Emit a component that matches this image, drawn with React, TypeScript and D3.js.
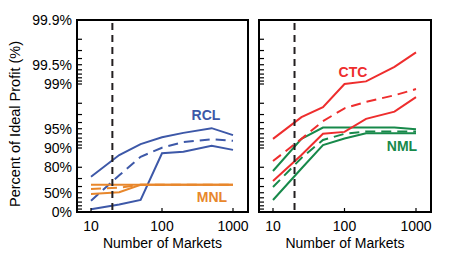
import React from 'react';
import * as d3 from 'd3';

// number of markets (x) and percent of ideal profit (y)
const markets = [10, 25, 50, 100, 200, 500, 1000];

const rclHigh = [71.9, 87.1, 91.3, 93.2, 94.2, 95.1, 93.7];
const rclMid = [33.5, 73.3, 86.3, 90.1, 91.9, 92.7, 92.3];
const rclLow = [9.2, 23.6, 35.1, 87.9, 88.6, 90.8, 89.3];

const mnlHigh = [62.5, 62.5, 62.5, 62.5, 62.5, 62.5, 62.5];
const mnlMid = [56.3, 58.3, 62.5, 62.5, 62.5, 62.5, 62.5];
const mnlLow = [47.7, 50.8, 62.5, 62.5, 62.5, 62.5, 62.5];

const ctcHigh = [92.8, 96.7, 97.7, 99.0, 99.09, 99.46, 99.68];
const ctcMid = [84.0, 92.8, 96.2, 97.6, 98.1, 98.5, 98.8];
const ctcLow = [67.2, 87.1, 94.0, 94.4, 96.5, 97.3, 98.4];

const nmlHigh = [77.1, 92.8, 95.2, 95.2, 95.2, 95.2, 94.9];
const nmlMid = [59.3, 85.7, 92.5, 94.0, 94.5, 94.5, 94.5];
const nmlLow = [35.1, 79.1, 91.0, 92.9, 94.1, 94.1, 94.1];

const yTickValues = [0, 50, 80, 90, 95, 99, 99.5, 99.9];
const yTickLabels = ['0%', '50%', '80%', '90%', '95%', '99%', '99.5%', '99.9%'];
const xTickValues = [10, 100, 1000];
const cutoff = 20;

const BLUE = '#3d58a8';
const ORANGE = '#e8872c';
const RED = '#ee2d2d';
const GREEN = '#17894a';
const FONT = '"Liberation Sans", Arial, Helvetica, sans-serif';

const top = 20;
const bottom = 212;

// y: log scale on the missing share (1 - p)
const yLog = d3.scaleLog().domain([1, 0.001]).range([bottom, top]);
const yScale = (pct: number) => yLog(1 - pct / 100);

type Series = { values: number[]; color: string; dashed?: boolean };
type Label = { text: string; x: number; y: number; color: string };

function Panel({ left, right, series, labels, showYLabels }: {
  left: number; right: number; series: Series[]; labels: Label[]; showYLabels: boolean;
}) {
  const x = d3.scaleLog().domain([10, 1000]).range([left + 14, right - 15]);
  const line = d3.line<number>()
    .x((_, i) => x(markets[i]))
    .y(d => yScale(d));

  return (
    <g>
      {series.map((s, i) => (
        <path key={i} d={line(s.values) || ''} fill="none" stroke={s.color}
          strokeWidth={2} strokeDasharray={s.dashed ? '10,6' : undefined} />
      ))}
      <line x1={x(cutoff)} x2={x(cutoff)} y1={top + 3} y2={bottom} stroke="#231f20"
        strokeWidth={2} strokeDasharray="7,5" />
      {yLog.ticks().map((t, i) => (
        <line key={i} x1={left} x2={left + 5} y1={yLog(t)} y2={yLog(t)} stroke="#000" strokeWidth={1.2} />
      ))}
      {xTickValues.map(t => (
        <g key={t}>
          <line x1={x(t)} x2={x(t)} y1={bottom} y2={bottom - 4} stroke="#000" strokeWidth={1.2} />
          <text x={x(t)} y={bottom + 19} textAnchor="middle" fontSize={14} fontFamily={FONT}>{t}</text>
        </g>
      ))}
      {showYLabels && yTickValues.map((v, i) => (
        <text key={v} x={left - 5} y={yScale(v) + 5} textAnchor="end" fontSize={14} fontFamily={FONT}>
          {yTickLabels[i]}
        </text>
      ))}
      <rect x={left} y={top} width={right - left} height={bottom - top} fill="none" stroke="#000" strokeWidth={2} />
      {labels.map(l => (
        <text key={l.text} x={l.x} y={l.y} textAnchor="middle" fontSize={14} fontWeight="bold"
          fontFamily={FONT} fill={l.color}>{l.text}</text>
      ))}
      <text x={(left + right) / 2} y={248} textAnchor="middle" fontSize={14} fontFamily={FONT}>
        Number of Markets
      </text>
    </g>
  );
}

export default function App() {
  return (
    <svg width={449} height={260} style={{ position: 'absolute', left: 0, top: 0, background: '#fff' }}>
      <text transform="translate(20,124) rotate(-90)" textAnchor="middle"
        fontSize={14.5} fontFamily={FONT}>Percent of Ideal Profit (%)</text>
      <Panel left={77} right={248} showYLabels
        series={[
          { values: rclHigh, color: BLUE },
          { values: rclMid, color: BLUE, dashed: true },
          { values: rclLow, color: BLUE },
          { values: mnlHigh, color: ORANGE },
          { values: mnlMid, color: ORANGE, dashed: true },
          { values: mnlLow, color: ORANGE },
        ]}
        labels={[
          { text: 'RCL', x: 206, y: 120, color: BLUE },
          { text: 'MNL', x: 212, y: 202, color: ORANGE },
        ]} />
      <Panel left={259} right={431} showYLabels={false}
        series={[
          { values: nmlHigh, color: GREEN },
          { values: nmlMid, color: GREEN, dashed: true },
          { values: nmlLow, color: GREEN },
          { values: ctcHigh, color: RED },
          { values: ctcMid, color: RED, dashed: true },
          { values: ctcLow, color: RED },
        ]}
        labels={[
          { text: 'CTC', x: 353, y: 77, color: RED },
          { text: 'NML', x: 402, y: 151, color: GREEN },
        ]} />
    </svg>
  );
}
